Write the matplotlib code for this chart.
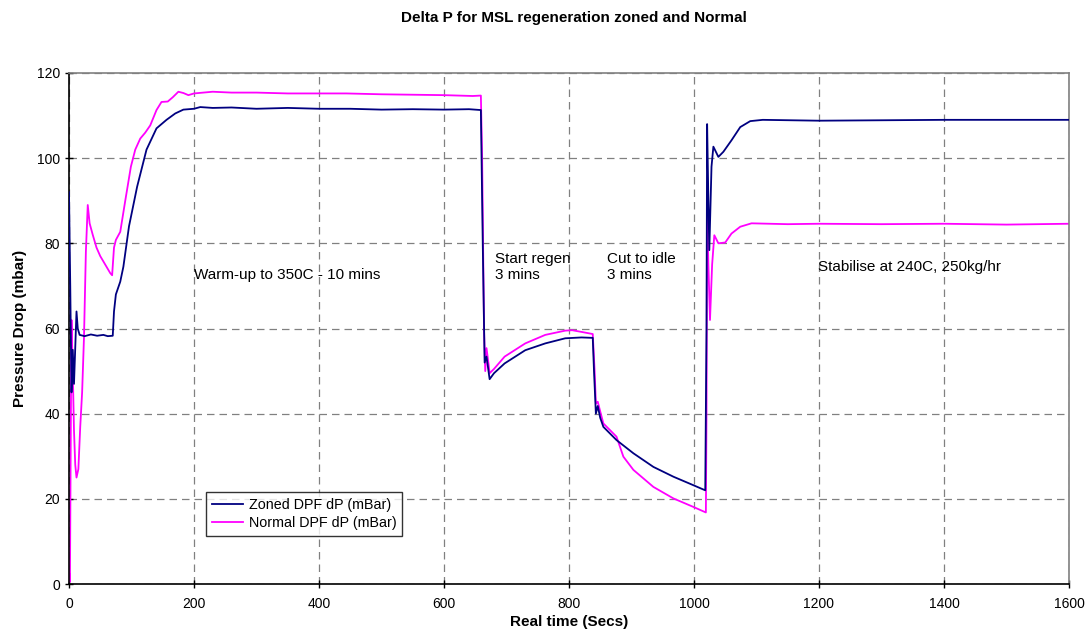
import matplotlib
matplotlib.use("Agg")
import matplotlib.pyplot as plt

plt.rcParams['font.family'] = ['Liberation Sans', 'DejaVu Sans']

# Zoned DPF dP (mBar)
zoned_t = [0, 2, 4, 6, 8, 12, 14, 17, 25, 35, 45, 55, 62, 70, 72, 75, 82, 87, 96, 109, 124,
           140, 156, 170, 183, 200, 210, 230, 260, 300, 350, 400, 450, 500, 550, 600, 640,
           659, 662, 665, 668, 673, 680, 697, 730, 762, 794, 820, 838, 840, 843, 846, 850,
           855, 876, 903, 935, 967, 999, 1018, 1020, 1021, 1023, 1024.5, 1028, 1031, 1039,
           1047, 1060, 1074, 1090, 1110, 1200, 1300, 1400, 1500, 1600]
zoned_v = [92, 70, 45, 55, 47, 64, 60, 58.5, 58.2, 58.6, 58.3, 58.5, 58.2, 58.3, 64, 68, 71,
           74.5, 84, 93.3, 102, 107, 109, 110.5, 111.4, 111.6, 112, 111.8, 111.9, 111.6,
           111.8, 111.6, 111.6, 111.4, 111.5, 111.4, 111.5, 111.3, 80, 52, 53.4, 48.1, 49.5,
           51.8, 54.9, 56.5, 57.7, 57.9, 57.8, 50, 40, 41.8, 39, 36.9, 33.8, 30.7, 27.5,
           25.2, 23.2, 22, 60, 108, 90, 78.4, 98, 102.7, 100.3, 101.5, 104.2, 107.3, 108.7,
           109, 108.8, 108.9, 109, 109, 109]

# Normal DPF dP (mBar)
normal_t = [0, 1.5, 3, 4, 6, 8, 10, 12, 15, 18, 21, 24, 27, 30, 33, 38, 44, 50, 54, 60, 66,
            69, 72, 75, 82, 90, 99, 106, 114, 122, 130, 140, 148, 158, 166, 175, 183, 191,
            200, 230, 260, 300, 350, 400, 444, 500, 550, 600, 646, 659, 661, 664, 666, 668,
            671, 673, 680, 697, 730, 762, 794, 805, 820, 838, 841, 843, 846, 850, 855, 876,
            887, 903, 935, 967, 999, 1019, 1020, 1021, 1023, 1025.6, 1029, 1032.5, 1039,
            1050, 1060, 1074, 1092, 1150, 1200, 1300, 1400, 1500, 1600]
normal_v = [3, 0.5, 40, 62, 50, 36, 28, 25, 27, 37, 45, 58, 78, 89, 84.7, 82, 79, 77, 76,
            74.5, 73, 72.5, 79, 80.8, 82.7, 90, 98, 102, 104.6, 106, 107.7, 111.3, 113.2,
            113.3, 114.3, 115.6, 115.3, 114.8, 115.2, 115.6, 115.4, 115.4, 115.2, 115.2,
            115.2, 115, 114.9, 114.8, 114.6, 114.7, 100, 60, 50, 55.4, 52, 49.5, 50.5, 53.4,
            56.5, 58.5, 59.5, 59.6, 59.2, 58.7, 50, 42.4, 42.8, 40.5, 37.7, 34.6, 29.9, 26.8,
            22.8, 20.1, 18.1, 16.8, 40, 88.6, 75, 62, 75, 81.9, 80, 80.2, 82.3, 83.9, 84.7,
            84.5, 84.6, 84.5, 84.6, 84.4, 84.6]

x_ticks = [0, 200, 400, 600, 800, 1000, 1200, 1400, 1600]
y_ticks = [0, 20, 40, 60, 80, 100, 120]

annotations = [
    (200, 72.5, "Warm-up to 350C - 10 mins"),
    (682, 74.5, "Start regen\n3 mins"),
    (861, 74.5, "Cut to idle\n3 mins"),
    (1198, 74.5, "Stabilise at 240C, 250kg/hr"),
]

fig = plt.figure(figsize=(10.88, 6.41), dpi=100)
ax = fig.add_axes([69/1088, 1 - 584/641, 1000/1088, 511/641])

ax.plot(zoned_t, zoned_v, color='#000080', lw=1.3, label='Zoned DPF dP (mBar)', zorder=3)
ax.plot(normal_t, normal_v, color='#FF00FF', lw=1.3, label='Normal DPF dP (mBar)', zorder=2)

ax.set_xlim(0, 1600)
ax.set_ylim(0, 120)
ax.set_xticks(x_ticks)
ax.set_yticks(y_ticks)
ax.tick_params(direction='inout', length=6, width=1, labelsize=10, colors='black')
ax.tick_params(axis='x', pad=6)
ax.grid(True, color='#808080', linestyle=(0, (6, 4)), linewidth=0.9)
ax.set_axisbelow(True)

for s in ['left', 'bottom']:
    ax.spines[s].set_color('black')
    ax.spines[s].set_linewidth(1.2)
for s in ['top', 'right']:
    ax.spines[s].set_color('#808080')
    ax.spines[s].set_linewidth(1.2)

for x, y, txt in annotations:
    ax.text(x, y, txt, fontsize=11, ha='left', va='center', linespacing=1.15)

ax.set_xlabel('Real time (Secs)', fontsize=11, fontweight='bold', labelpad=3)
ax.set_ylabel('Pressure Drop (mbar)', fontsize=11, fontweight='bold', labelpad=7)
fig.suptitle('Delta P for MSL regeneration zoned and Normal', fontsize=11,
             fontweight='bold', x=574/1088, y=1 - 18/641, va='center')

leg = ax.legend(loc='upper left', bbox_to_anchor=(0.137, 0.18), fontsize=10.3,
                frameon=True, fancybox=False, handlelength=2.2, borderpad=0.4,
                labelspacing=0.3, handletextpad=0.4, borderaxespad=0)
leg.get_frame().set_edgecolor('black')
leg.get_frame().set_linewidth(1.0)

fig.savefig('out.png', dpi=100)
